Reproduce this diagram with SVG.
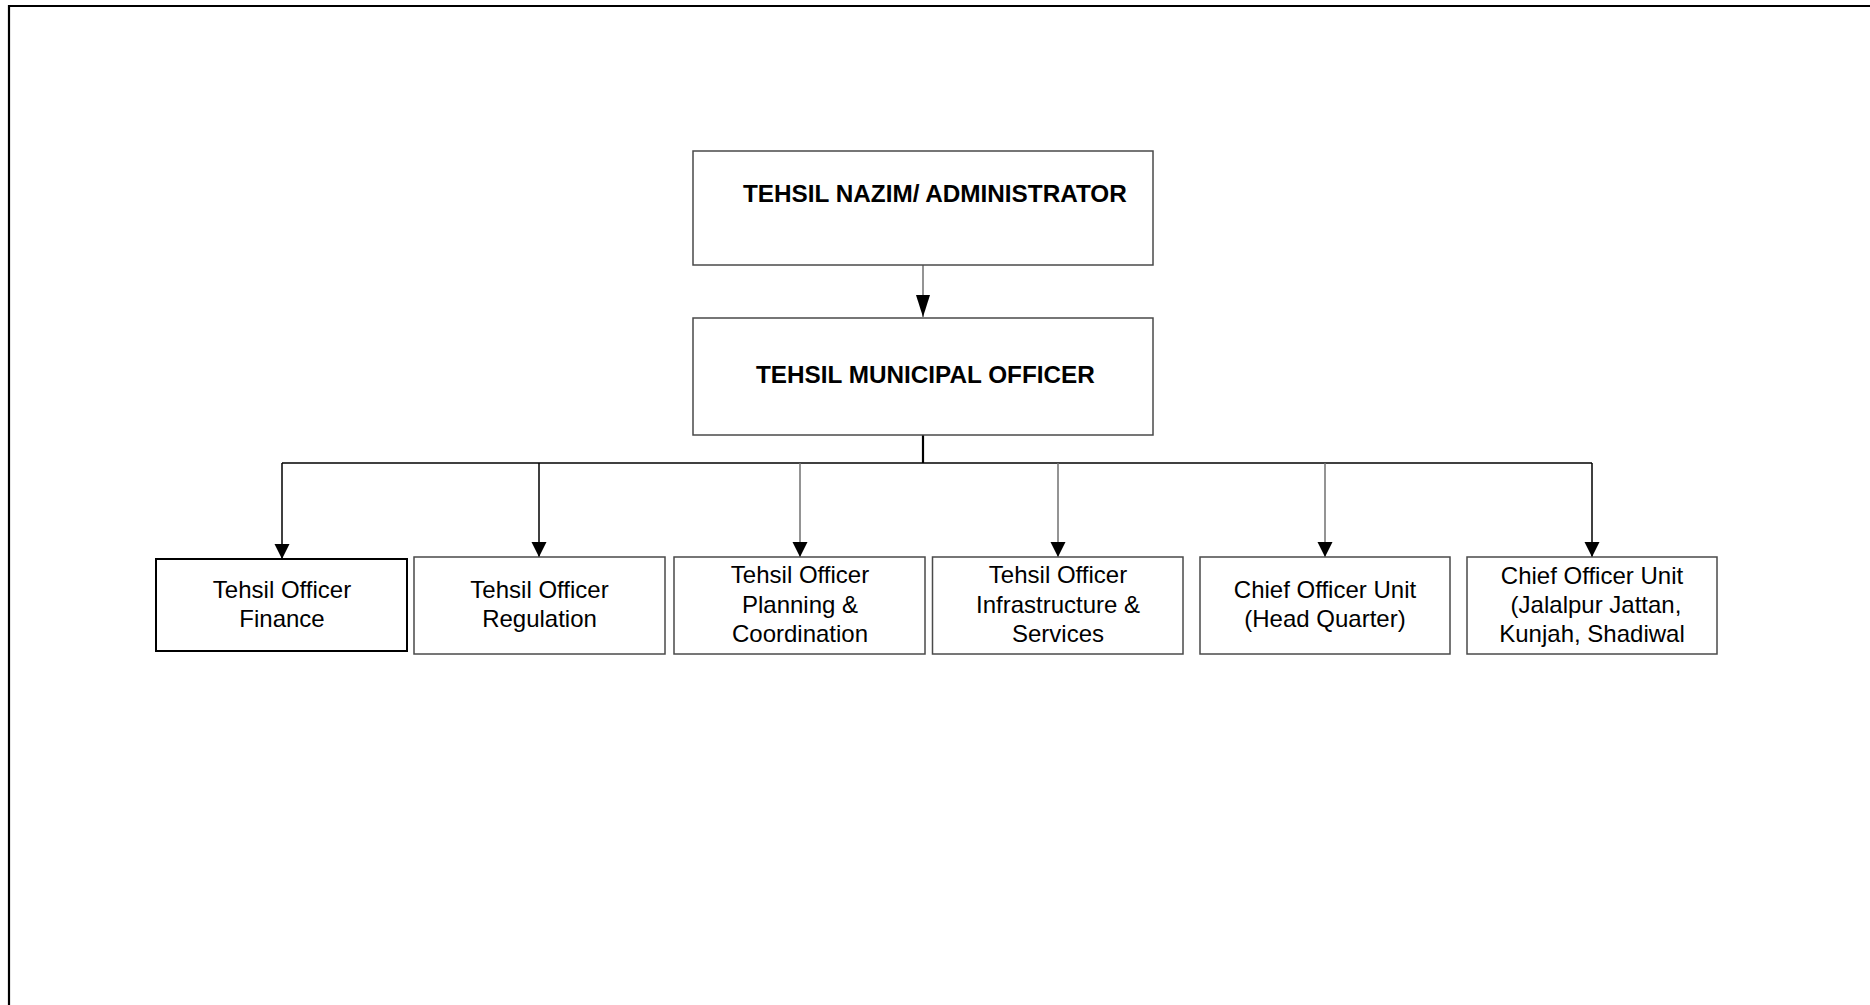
<svg xmlns="http://www.w3.org/2000/svg" width="1870" height="1005" viewBox="0 0 1870 1005">
<style>
  .box { fill: #ffffff; stroke: #4a4a4a; stroke-width: 1.5; }
  .boxk { fill: #ffffff; stroke: #000000; stroke-width: 2; }
  .t { font-family: "Liberation Sans", Arial, sans-serif; font-size: 24px; fill: #000; text-anchor: middle; }
  .tb { font-family: "Liberation Sans", Arial, sans-serif; font-size: 24.3px; font-weight: bold; fill: #000; }
  .ln { fill: none; stroke: #000; stroke-width: 1.5; }
  .lg { fill: none; stroke: #707070; stroke-width: 1.5; }
</style>
<defs>
  <marker id="ahBig" markerUnits="userSpaceOnUse" markerWidth="24" markerHeight="16" viewBox="0 0 24 16" refX="22" refY="8" orient="auto">
    <path d="M0,1 L22,8 L0,15 Z" fill="#000"/>
  </marker>
  <marker id="ah" markerUnits="userSpaceOnUse" markerWidth="16" markerHeight="16" viewBox="0 0 16 16" refX="15" refY="8" orient="auto">
    <path d="M0,0.5 L15,8 L0,15.5 Z" fill="#000"/>
  </marker>
</defs>
<rect width="1870" height="1005" fill="#ffffff"/>
<path d="M9,1006 V6 H1871" fill="none" stroke="#000" stroke-width="2.2"/>

<g id="connectors">
  <path class="lg" d="M923,265 V317" marker-end="url(#ahBig)"/>
  <path d="M923,435 V463" fill="none" stroke="#000" stroke-width="2.2"/>
  <path class="ln" d="M282,463 H1592"/>
  <path class="ln" d="M282,463 V559" marker-end="url(#ah)"/>
  <path class="ln" d="M539,463 V557" marker-end="url(#ah)"/>
  <path class="lg" d="M800,463 V557" marker-end="url(#ah)"/>
  <path class="lg" d="M1058,463 V557" marker-end="url(#ah)"/>
  <path class="lg" d="M1325,463 V557" marker-end="url(#ah)"/>
  <path class="ln" d="M1592,463 V557" marker-end="url(#ah)"/>
</g>

<g id="node-nazim">
  <rect class="box" x="693" y="151" width="460" height="114"/>
  <text class="tb" x="743" y="202">TEHSIL NAZIM/ ADMINISTRATOR</text>
</g>
<g id="node-tmo">
  <rect class="box" x="693" y="318" width="460" height="117"/>
  <text class="tb" x="756" y="383">TEHSIL MUNICIPAL OFFICER</text>
</g>
<g id="node-finance">
  <rect class="boxk" x="156" y="559" width="251" height="92"/>
  <text class="t" x="282" y="598">Tehsil Officer</text>
  <text class="t" x="282" y="627">Finance</text>
</g>
<g id="node-regulation">
  <rect class="box" x="414" y="557" width="251" height="97"/>
  <text class="t" x="539.5" y="598">Tehsil Officer</text>
  <text class="t" x="539.5" y="627">Regulation</text>
</g>
<g id="node-planning">
  <rect class="box" x="674" y="557" width="251" height="97"/>
  <text class="t" x="800" y="583">Tehsil Officer</text>
  <text class="t" x="800" y="613">Planning &amp;</text>
  <text class="t" x="800" y="642">Coordination</text>
</g>
<g id="node-infra">
  <rect class="box" x="932.5" y="557" width="250.5" height="97"/>
  <text class="t" x="1058" y="583">Tehsil Officer</text>
  <text class="t" x="1058" y="613">Infrastructure &amp;</text>
  <text class="t" x="1058" y="642">Services</text>
</g>
<g id="node-hq">
  <rect class="box" x="1200" y="557" width="250" height="97"/>
  <text class="t" x="1325" y="598">Chief Officer Unit</text>
  <text class="t" x="1325" y="627">(Head Quarter)</text>
</g>
<g id="node-units">
  <rect class="box" x="1467" y="557" width="250" height="97"/>
  <text class="t" x="1592" y="584">Chief Officer Unit</text>
  <text class="t" x="1596" y="613">(Jalalpur Jattan,</text>
  <text class="t" x="1592" y="642">Kunjah, Shadiwal</text>
</g>
</svg>
